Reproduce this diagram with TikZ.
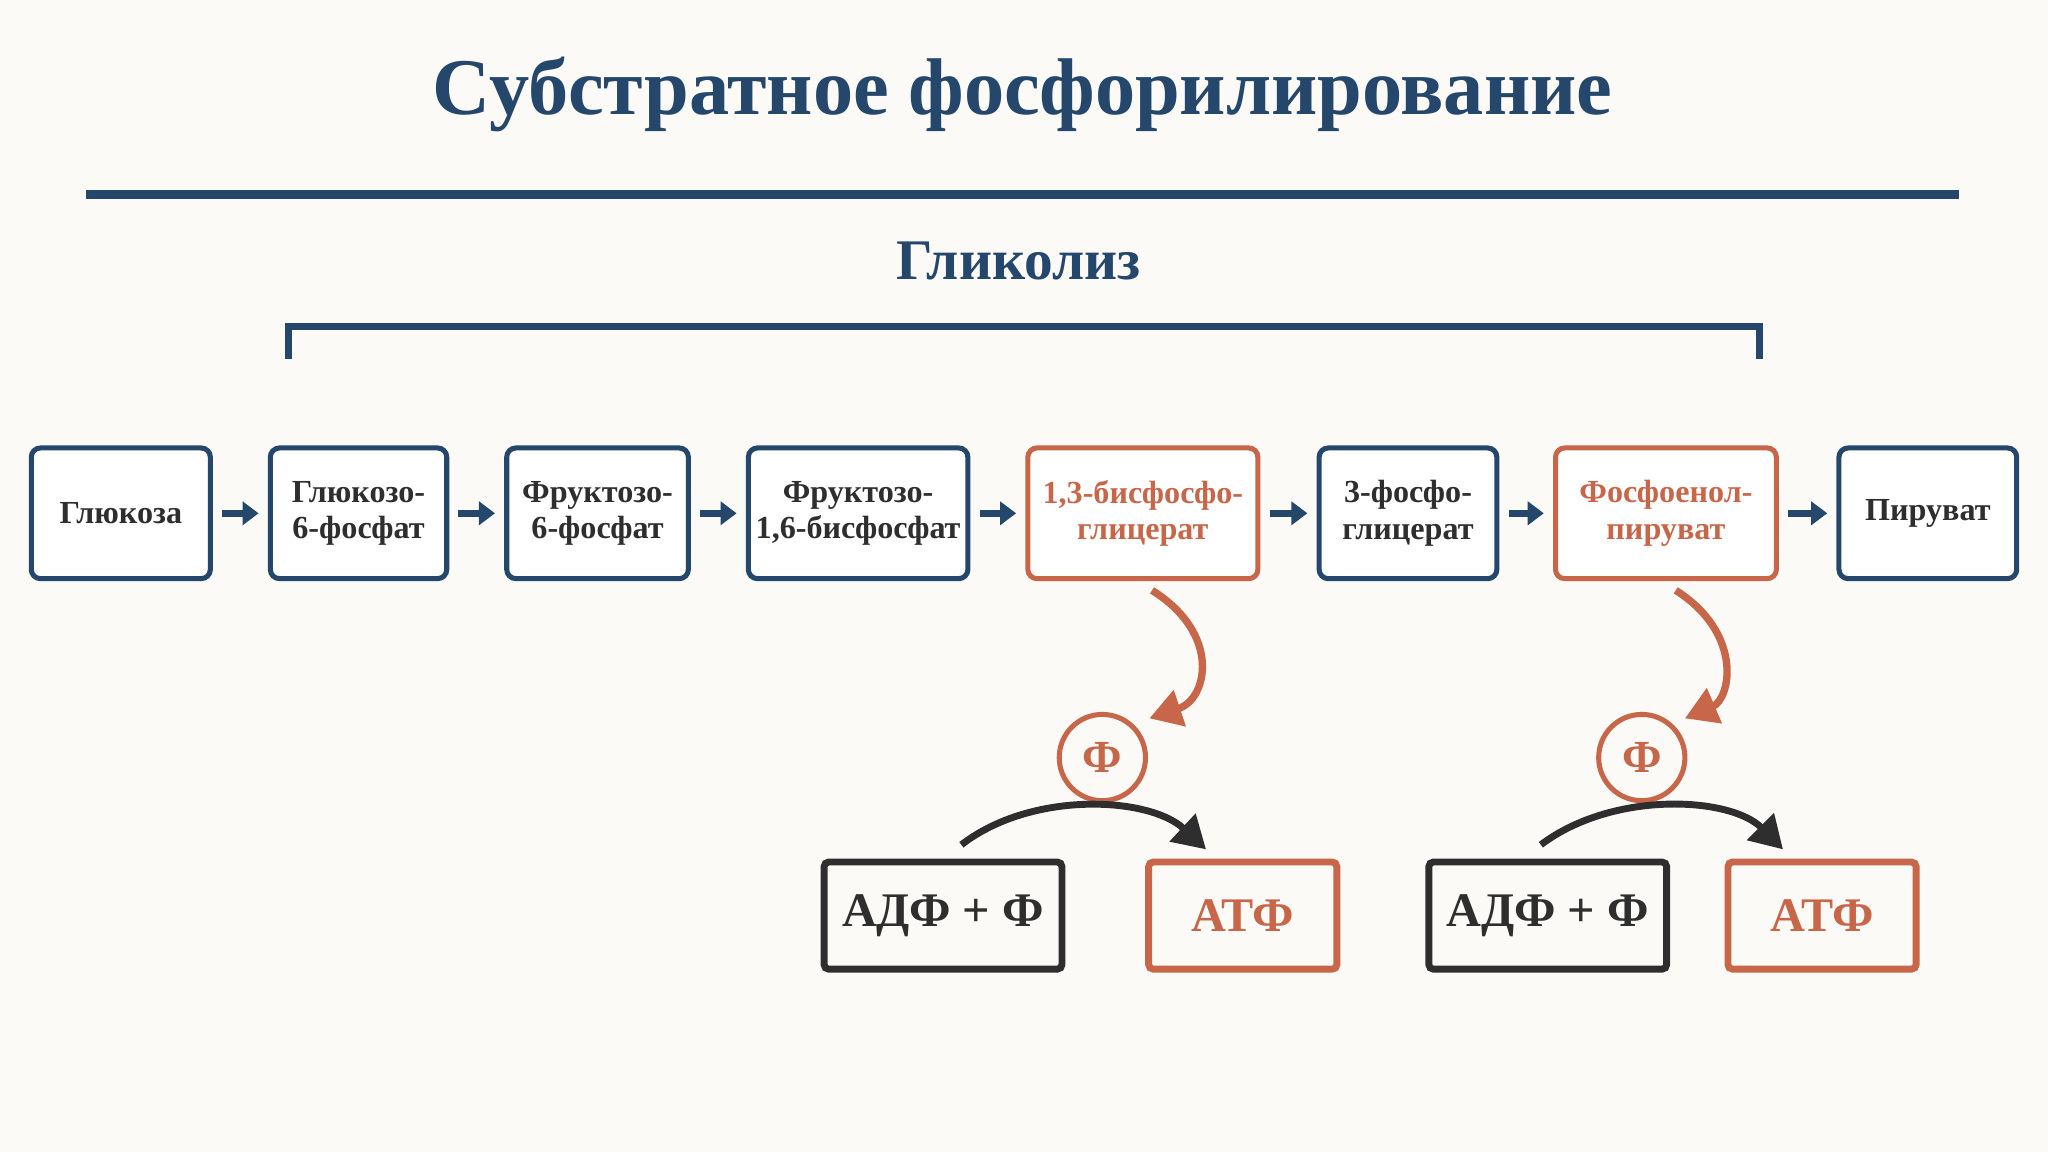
\documentclass[tikz,border=0pt]{standalone}
\usepackage{fontspec}
\setmainfont{Liberation Serif}
\usetikzlibrary{positioning,arrows.meta}
\definecolor{navy}{HTML}{24476B}
\definecolor{rust}{HTML}{C8664A}
\definecolor{ink}{HTML}{2E2E2E}
\definecolor{paper}{HTML}{FBFAF7}
\begin{document}
\begin{tikzpicture}[x=0.01cm, y=-0.01cm,
stage/.style={draw=navy, line width=1.1pt, rounded corners=2pt, fill=white, minimum height=1cm,
  align=center, font=\bfseries\fontsize{7}{8}\selectfont, text=ink, inner sep=1pt},
hot/.style={stage, draw=rust, text=rust},
flow/.style={-{Triangle[length=3.5pt,width=5pt]}, navy, line width=1.6pt},
pbox/.style={draw=ink, line width=1.5pt, rounded corners=1pt, minimum width=1.82cm, minimum height=0.82cm,
  font=\bfseries\fontsize{10.5}{12}\selectfont, text=ink},
abox/.style={pbox, draw=rust, text=rust, minimum width=1.44cm},
phos/.style={circle, draw=rust, line width=1.1pt, minimum size=0.66cm, inner sep=0pt,
  text=rust, font=\bfseries\fontsize{10}{12}\selectfont},
gain/.style={-{Triangle[length=7pt,width=8pt]}, rust, line width=1.6pt},
handover/.style={-{Triangle[length=7pt,width=8pt]}, ink, line width=1.5pt},
]
\fill[paper] (0,0) rectangle (1568,882);
\useasboundingbox (0,0) rectangle (1568,882);

%%%%%%%% TITLE
\node[text=navy, font=\bfseries\fontsize{17.5}{21}\selectfont] (title) at (783,72) {Субстратное фосфорилирование};
\draw[navy, line width=1.8pt] (66,149) -- (1500,149);
\node[text=navy, font=\bfseries\fontsize{12.5}{15}\selectfont] (glyc) at (780,200) {Гликолиз};
\draw[navy, line width=1.5pt] (221,275) -- (221,250) -- (1347,250) -- (1347,275);

%%%%%%%% CHAIN
\node[stage, minimum width=1.37cm] (s1) at (92.5,393) {Глюкоза};
\node[stage, minimum width=1.35cm] (s2) at (274.5,393) {Глюкозо-\\6-фосфат};
\node[stage, minimum width=1.39cm] (s3) at (457.5,393) {Фруктозо-\\6-фосфат};
\node[stage, minimum width=1.68cm] (s4) at (657,393) {Фруктозо-\\1,6-бисфосфат};
\node[hot, minimum width=1.76cm] (s5) at (875,393) {1,3-бисфосфо-\\глицерат};
\node[stage, minimum width=1.36cm] (s6) at (1078,393) {3-фосфо-\\глицерат};
\node[hot, minimum width=1.69cm] (s7) at (1275.5,393) {Фосфоенол-\\пируват};
\node[stage, minimum width=1.36cm] (s8) at (1476,393) {Пируват};
\foreach \a/\b in {s1/s2,s2/s3,s3/s4,s4/s5,s5/s6,s6/s7,s7/s8}
  \draw[flow] ([xshift=2pt]\a.east) -- ([xshift=-2pt]\b.west);

%%%%%%%% PHOSPHATE TRANSFER
\node[phos] (p1) at (844,580) {Ф};
\node[phos] (p2) at (1257,580) {Ф};
\coordinate (c1) at (880,550);
\coordinate (c2) at (1290,550);
\draw[gain] (882,452) .. controls (935,485) and (925,535) .. (c1);
\draw[gain] (1283,452) .. controls (1335,485) and (1325,535) .. (c2);

\node[pbox] (adp1) at (722,701) {АДФ + Ф};
\node[abox] (atp1) at (951.5,701) {АТФ};
\node[pbox] (adp2) at (1185,701) {АДФ + Ф};
\node[abox] (atp2) at (1395,701) {АТФ};
\draw[handover] ([xshift=4pt,yshift=3pt]adp1.north) .. controls (790,605) and (880,610) .. ([xshift=-8pt,yshift=2pt]atp1.north);
\draw[handover] ([xshift=-1.5pt,yshift=3pt]adp2.north) .. controls (1235,605) and (1325,610) .. ([xshift=-8.5pt,yshift=2pt]atp2.north);
\end{tikzpicture}
\end{document}
